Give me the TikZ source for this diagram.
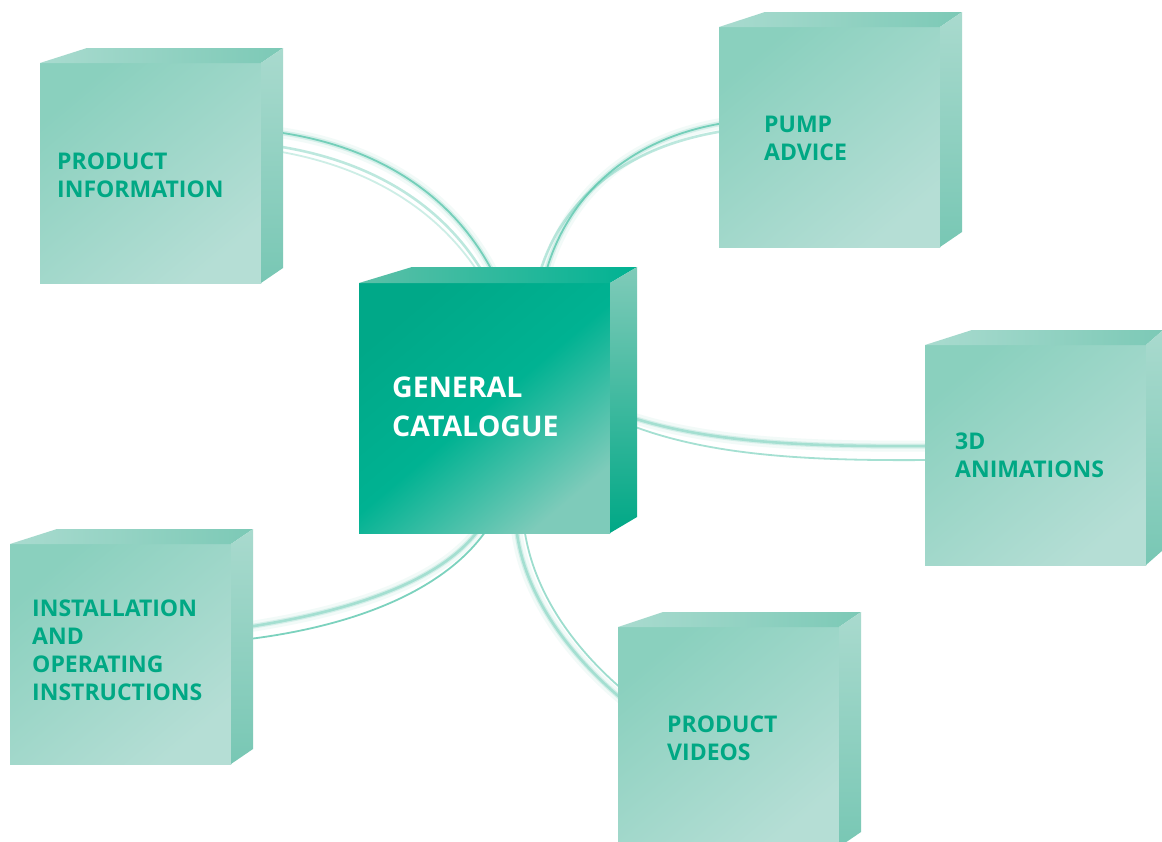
\documentclass[tikz,border=0pt]{standalone}
\usepackage{fontspec}
\setmainfont{Open Sans}
\usetikzlibrary{calc}
\definecolor{txtgreen}{HTML}{00A884}
\definecolor{ofa}{HTML}{8AD0BE}
\definecolor{ofb}{HTML}{B5DED5}
\definecolor{ota}{HTML}{A9DBCF}
\definecolor{otb}{HTML}{7CC9B6}
\definecolor{ora}{HTML}{A9DACE}
\definecolor{orb}{HTML}{78C7B4}
\definecolor{cfa}{HTML}{00A888}
\definecolor{cfb}{HTML}{7ECBBA}
\definecolor{cta}{HTML}{5DC0A8}
\definecolor{ctb}{HTML}{00B292}
\definecolor{cra}{HTML}{80CBB9}
\definecolor{crb}{HTML}{00A886}
\definecolor{glow}{HTML}{5CC7AE}
\tikzset{
  ofront/.style={anchor=north west, inner sep=0pt, outer sep=0pt,
     minimum width=221pt, minimum height=220pt,
     top color=ofa, bottom color=ofb, shading angle=40},
  otop/.style={left color=ota, right color=otb},
  oright/.style={top color=ora, bottom color=orb},
  cfront/.style={anchor=north west, inner sep=0pt, outer sep=0pt,
     minimum width=251pt, minimum height=250pt,
     top color=cfa, bottom color=cfb, middle color=ctb, shading angle=40},
  ctop/.style={left color=cta, right color=ctb},
  cright/.style={top color=cra, bottom color=crb},
  otext/.style={anchor=north west, inner sep=0pt, align=left, text=txtgreen,
     font=\fontsize{23}{28}\selectfont\bfseries},
  ctext/.style={anchor=north west, inner sep=0pt, align=left, text=white,
     font=\fontsize{28.5}{39}\selectfont\bfseries},
  glowa/.style={draw=glow, line width=11pt, opacity=0.08, line cap=round},
  glowb/.style={draw=glow, line width=5pt, opacity=0.2, line cap=round},
  strand/.style={draw=glow, line width=1.8pt, opacity=0.8},
  strandl/.style={draw=glow, line width=2.6pt, opacity=0.4},
}
\newcommand\cubefaces[6]{%
  \shade[#5] (#1.north west) -- ++(#4,-#3) -- ($(#1.north east)+(#2,-#3)$) -- (#1.north east) -- cycle;
  \shade[#6] (#1.north east) -- ++(#2,-#3) -- ($(#1.south east)+(#2,-#3)$) -- (#1.south east) -- cycle;
}
\newcommand\glowline[4]{%
  \path[glowa] #1 .. controls #2 and #3 .. #4;
  \path[glowb] #1 .. controls #2 and #3 .. #4;
}
\begin{document}
\begin{tikzpicture}[x=1pt,y=-1pt]
\useasboundingbox[fill=white] (0,0) rectangle (1162,841);
% front face nodes (defined first so connectors can refer to them)
\path
  node[ofront] (pi) at (40,63) {}
  node[ofront] (pa) at (719,27) {}
  node[ofront] (an) at (925,345) {}
  node[ofront] (io) at (10,544) {}
  node[ofront] (pv) at (618,627) {}
  node[cfront] (gc) at (359,283) {};
% connectors
% GC -> Product information
\glowline{($(pi.north east)+(15,69)$)}{(385,147)}{(462,202)}{($(gc.north)+(15,3)$)}
\path[strand] ($(pi.north east)+(15,69)$) .. controls (385,147) and (462,202) .. ($(gc.north)+(15,3)$);
\path[strandl] ($(pi.north east)+(15,83)$) .. controls (380,162) and (452,212) .. ($(gc.north)+(6,3)$);
\path[strand,opacity=0.3] ($(pi.north east)+(15,88)$) .. controls (378,168) and (448,218) .. ($(gc.north)+(2,3)$);
% GC -> Pump advice
\glowline{($(gc.north)+(58,3)$)}{(560,205)}{(620,140)}{($(pa.west)+(5,-14)$)}
\path[strand] ($(gc.north)+(58,3)$) .. controls (560,205) and (620,140) .. ($(pa.west)+(5,-14)$);
\path[strandl] ($(gc.north)+(52,3)$) .. controls (553,210) and (615,148) .. ($(pa.west)+(5,-6)$);
% GC -> 3D animations
\glowline{($(gc.east)+(20,9)$)}{(710,443)}{(810,447)}{($(an.west)+(5,-9)$)}
\path[strandl] ($(gc.east)+(20,9)$) .. controls (710,443) and (810,447) .. ($(an.west)+(5,-9)$);
\path[strand,opacity=0.55] ($(gc.east)+(20,17)$) .. controls (710,456) and (810,461) .. ($(an.west)+(5,5)$);
% GC -> Installation
\glowline{($(gc.south)+(-6,-3)$)}{(440,582)}{(350,612)}{($(io.east)+(10,-26)$)}
\path[strandl] ($(gc.south)+(-6,-3)$) .. controls (440,582) and (350,612) .. ($(io.east)+(10,-26)$);
\path[strand] ($(gc.south)+(2,-3)$) .. controls (445,590) and (355,627) .. ($(io.east)+(10,-14)$);
% GC -> Product videos
\glowline{($(gc.south)+(32,-3)$)}{(525,600)}{(575,660)}{($(pv.west)+(5,-37)$)}
\path[strandl] ($(gc.south)+(32,-3)$) .. controls (525,600) and (575,660) .. ($(pv.west)+(5,-37)$);
\path[strand,opacity=0.6] ($(gc.south)+(40,-3)$) .. controls (535,600) and (582,655) .. ($(pv.west)+(5,-47)$);
% redraw front faces over connectors
\path
  node[ofront] at (40,63) {}
  node[ofront] at (719,27) {}
  node[ofront] at (925,345) {}
  node[ofront] at (10,544) {}
  node[ofront] at (618,627) {}
  node[cfront] at (359,283) {};
% cube faces
\cubefaces{pi}{22}{15}{47}{otop}{oright}
\cubefaces{pa}{22}{15}{46}{otop}{oright}
\cubefaces{an}{17}{15}{47}{otop}{oright}
\cubefaces{io}{22}{15}{47}{otop}{oright}
\cubefaces{pv}{22}{15}{45}{otop}{oright}
\cubefaces{gc}{27}{16}{53}{ctop}{cright}
% labels
\node[otext] (pil) at ($(pi.north west)+(17,90)$) {PRODUCT\\INFORMATION};
\node[otext] (pal) at ($(pa.north west)+(45,89)$) {PUMP\\ADVICE};
\node[otext] (anl) at ($(an.north west)+(30,88)$) {3D\\ANIMATIONS};
\node[otext] (iol) at ($(io.north west)+(22,56)$) {INSTALLATION\\AND\\OPERATING\\INSTRUCTIONS};
\node[otext] (pvl) at ($(pv.north west)+(49,89)$) {PRODUCT\\VIDEOS};
\node[ctext] (gcl) at ($(gc.north west)+(33,94)$) {GENERAL\\CATALOGUE};
\end{tikzpicture}
\end{document}
